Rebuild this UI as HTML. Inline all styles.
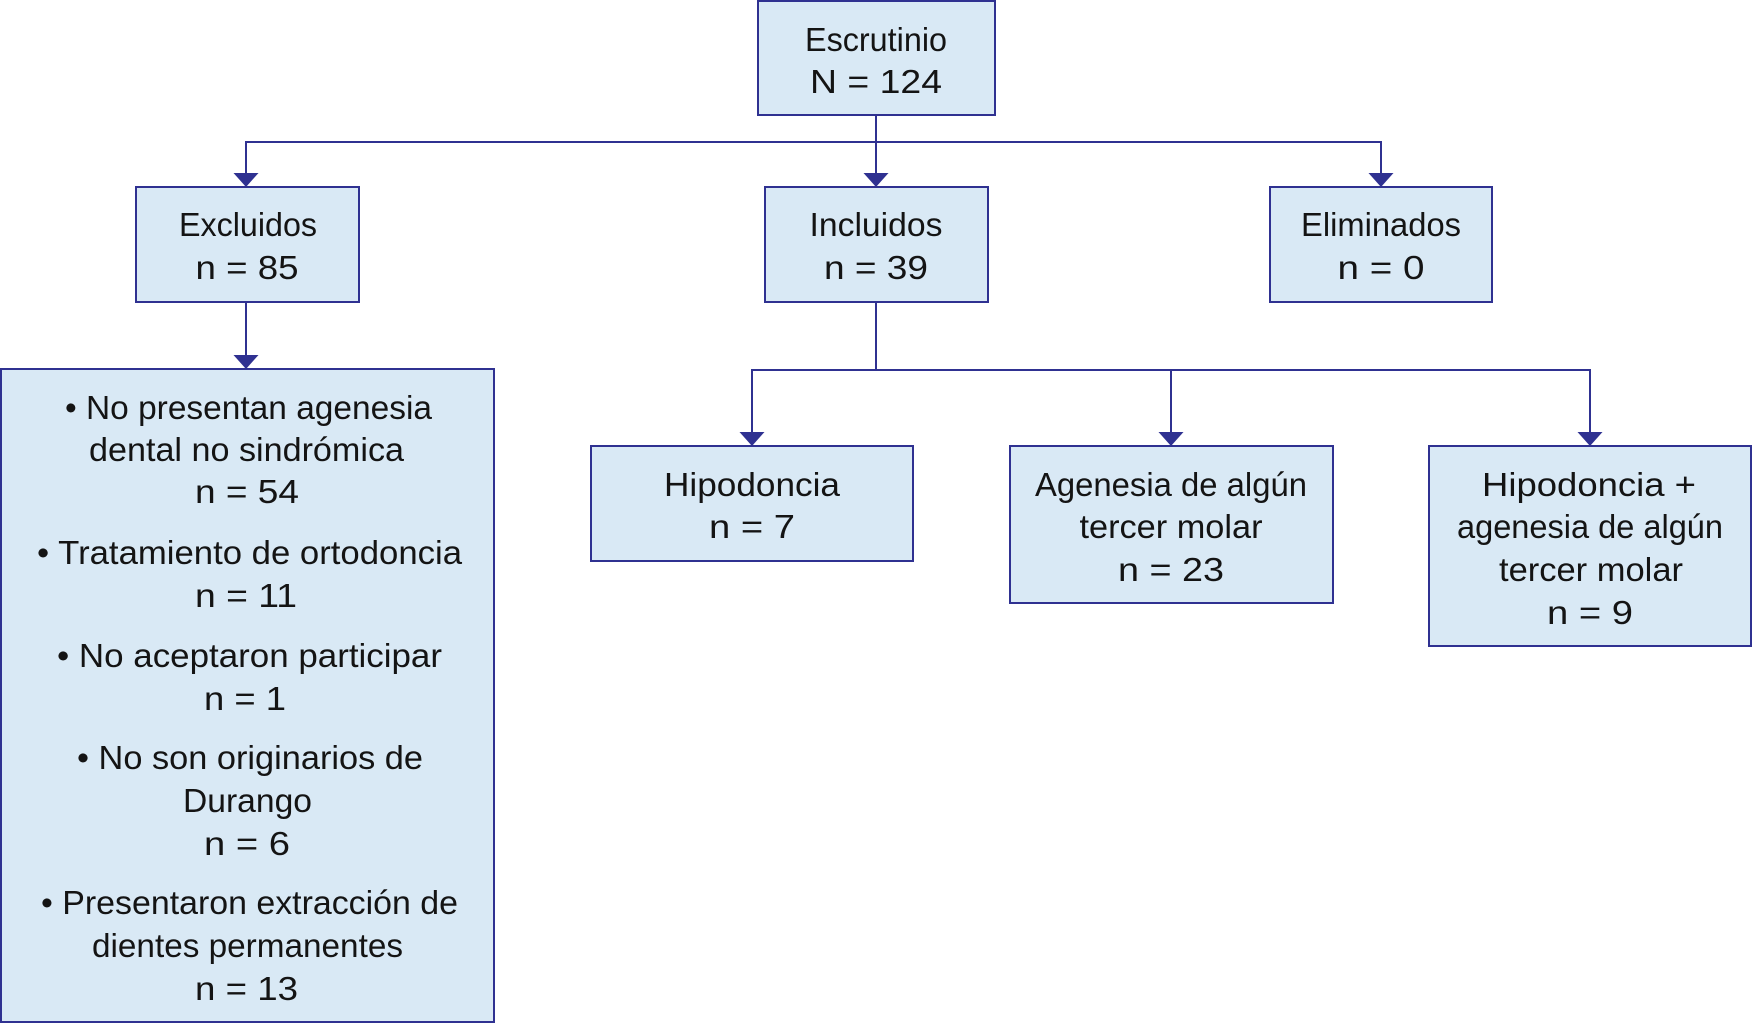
<!DOCTYPE html>
<html>
<head>
<meta charset="utf-8">
<style>
  html, body { margin:0; padding:0; background:#ffffff; }
  body { width:1753px; height:1024px; overflow:hidden; }
  svg { display:block; }
  text { font-family:"Liberation Sans", "DejaVu Sans", sans-serif; font-size:33px; fill:#141414; text-anchor:middle; }
</style>
</head>
<body>
<svg width="1753" height="1024" viewBox="0 0 1753 1024" xmlns="http://www.w3.org/2000/svg">
  <g fill="#d9e9f5" stroke="#2f3191" stroke-width="2">
    <rect x="758" y="1" width="237" height="114"/>
    <rect x="136" y="187" width="223" height="115"/>
    <rect x="765" y="187" width="223" height="115"/>
    <rect x="1270" y="187" width="222" height="115"/>
    <rect x="1" y="369" width="493" height="653"/>
    <rect x="591" y="446" width="322" height="115"/>
    <rect x="1010" y="446" width="323" height="157"/>
    <rect x="1429" y="446" width="322" height="200"/>
  </g>

  <g stroke="#2f3191" stroke-width="2" fill="none">
    <line x1="876" y1="115" x2="876" y2="175"/>
    <polyline points="246,175 246,142 1381,142 1381,175"/>
    <line x1="246" y1="302" x2="246" y2="357"/>
    <line x1="876" y1="302" x2="876" y2="371"/>
    <polyline points="752,434 752,370 1590,370 1590,434"/>
    <line x1="1171" y1="370" x2="1171" y2="434"/>
  </g>

  <g fill="#2f3191">
    <polygon points="233.5,173 258.5,173 246,187"/>
    <polygon points="863.5,173 888.5,173 876,187"/>
    <polygon points="1368.5,173 1393.5,173 1381,187"/>
    <polygon points="233.5,355 258.5,355 246,369"/>
    <polygon points="739.5,432 764.5,432 752,446"/>
    <polygon points="1158.5,432 1183.5,432 1171,446"/>
    <polygon points="1577.5,432 1602.5,432 1590,446"/>
  </g>

  <text x="876" y="51" textLength="142" lengthAdjust="spacingAndGlyphs">Escrutinio</text>
  <text x="876" y="93" textLength="132" lengthAdjust="spacingAndGlyphs">N = 124</text>

  <text x="248" y="236" textLength="138" lengthAdjust="spacingAndGlyphs">Excluidos</text>
  <text x="247" y="279" textLength="103" lengthAdjust="spacingAndGlyphs">n = 85</text>

  <text x="876" y="236" textLength="133" lengthAdjust="spacingAndGlyphs">Incluidos</text>
  <text x="876" y="279" textLength="104" lengthAdjust="spacingAndGlyphs">n = 39</text>

  <text x="1381" y="236" textLength="160" lengthAdjust="spacingAndGlyphs">Eliminados</text>
  <text x="1381" y="279" textLength="87" lengthAdjust="spacingAndGlyphs">n = 0</text>

  <text x="248.5" y="419" textLength="367" lengthAdjust="spacingAndGlyphs">• No presentan agenesia</text>
  <text x="246.5" y="461" textLength="315" lengthAdjust="spacingAndGlyphs">dental no sindrómica</text>
  <text x="247" y="503" textLength="104" lengthAdjust="spacingAndGlyphs">n = 54</text>

  <text x="249.5" y="564" textLength="425" lengthAdjust="spacingAndGlyphs">• Tratamiento de ortodoncia</text>
  <text x="246" y="607" textLength="102" lengthAdjust="spacingAndGlyphs">n = 11</text>

  <text x="249.5" y="667" textLength="385" lengthAdjust="spacingAndGlyphs">• No aceptaron participar</text>
  <text x="245" y="710" textLength="82" lengthAdjust="spacingAndGlyphs">n = 1</text>

  <text x="250" y="769" textLength="346" lengthAdjust="spacingAndGlyphs">• No son originarios de</text>
  <text x="247.5" y="812" textLength="129" lengthAdjust="spacingAndGlyphs">Durango</text>
  <text x="247" y="855" textLength="86" lengthAdjust="spacingAndGlyphs">n = 6</text>

  <text x="249.5" y="914" textLength="417" lengthAdjust="spacingAndGlyphs">• Presentaron extracción de</text>
  <text x="247.5" y="957" textLength="311" lengthAdjust="spacingAndGlyphs">dientes permanentes</text>
  <text x="246.5" y="1000" textLength="103" lengthAdjust="spacingAndGlyphs">n = 13</text>

  <text x="752" y="496" textLength="176" lengthAdjust="spacingAndGlyphs">Hipodoncia</text>
  <text x="752" y="538" textLength="86" lengthAdjust="spacingAndGlyphs">n = 7</text>

  <text x="1171" y="496" textLength="272" lengthAdjust="spacingAndGlyphs">Agenesia de algún</text>
  <text x="1171" y="538" textLength="183" lengthAdjust="spacingAndGlyphs">tercer molar</text>
  <text x="1171" y="581" textLength="106" lengthAdjust="spacingAndGlyphs">n = 23</text>

  <text x="1589" y="496" textLength="214" lengthAdjust="spacingAndGlyphs">Hipodoncia +</text>
  <text x="1590" y="538" textLength="266" lengthAdjust="spacingAndGlyphs">agenesia de algún</text>
  <text x="1591" y="581" textLength="184" lengthAdjust="spacingAndGlyphs">tercer molar</text>
  <text x="1590" y="624" textLength="86" lengthAdjust="spacingAndGlyphs">n = 9</text>
</svg>
</body>
</html>
